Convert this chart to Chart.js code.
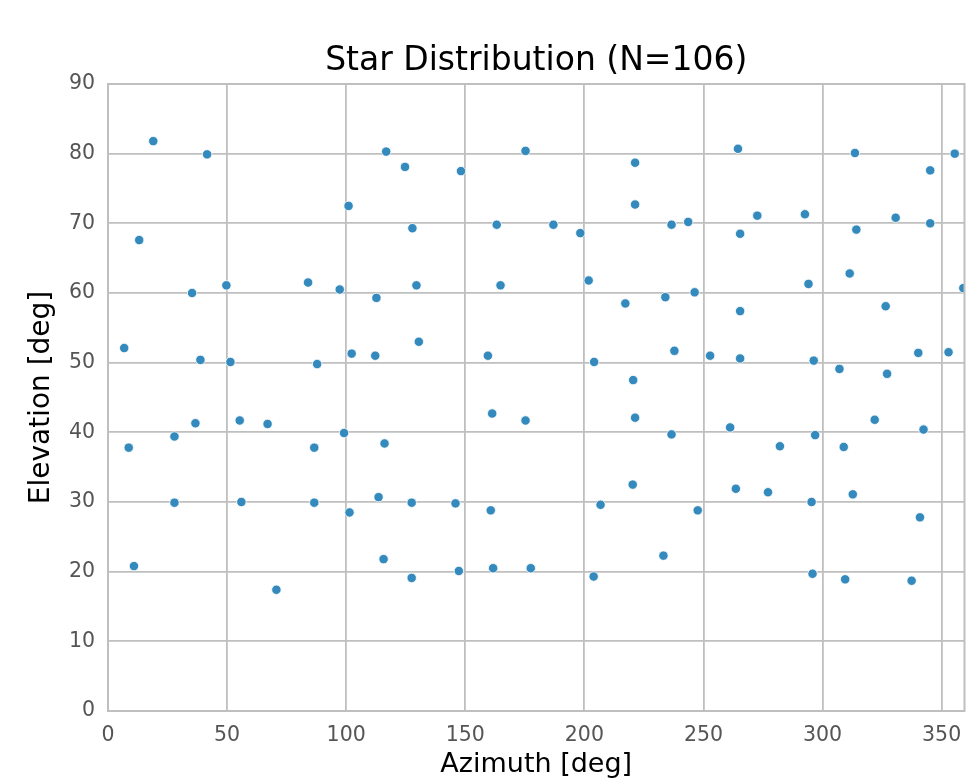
<!DOCTYPE html>
<html>
<head>
<meta charset="utf-8">
<script src="https://cdn.jsdelivr.net/npm/chart.js@4/dist/chart.umd.min.js"></script>
<style>
  html, body { margin: 0; padding: 0; background: #ffffff; }
  #wrap { width: 970px; height: 783px; position: relative; }
</style>
</head>
<body>
<div id="wrap"><canvas id="c" width="970" height="783"></canvas></div>
<script>
// ---- data ----
const azimuth = [
  6.8, 8.7, 10.9, 13.1, 19.0, 27.9, 27.9, 35.3, 36.7, 38.8,
  41.6, 49.7, 51.4, 55.3, 56.0, 67.0, 70.7, 84.0, 86.6, 86.6,
  87.8, 97.3, 99.1, 101.0, 101.4, 102.3, 112.2, 112.7, 113.6, 115.7,
  116.1, 116.8, 124.7, 127.5, 127.5, 127.8, 129.5, 130.5, 145.9, 147.3,
  148.2, 159.5, 160.7, 161.3, 161.7, 163.2, 164.8, 175.3, 175.3, 177.5,
  187.0, 198.3, 201.8, 203.9, 204.1, 206.8, 217.2, 220.3, 220.5, 221.3,
  221.3, 221.3, 233.2, 234.0, 236.6, 236.6, 237.8, 243.6, 246.3, 247.6,
  252.8, 261.2, 263.6, 264.5, 265.4, 265.4, 265.4, 272.6, 277.1, 282.1,
  292.6, 294.1, 295.4, 295.8, 296.3, 296.9, 307.1, 308.9, 309.5, 311.4,
  312.7, 313.6, 314.2, 321.9, 326.5, 327.1, 330.7, 337.4, 340.2, 340.9,
  342.4, 345.2, 345.2, 352.9, 355.5, 359.1
];
const elevation = [
  52.1, 37.8, 20.8, 67.6, 81.8, 39.4, 29.9, 60.0, 41.3, 50.4,
  79.9, 61.1, 50.1, 41.7, 30.0, 41.2, 17.4, 61.5, 37.8, 29.9,
  49.8, 60.5, 39.9, 72.5, 28.5, 51.3, 51.0, 59.3, 30.7, 21.8,
  38.4, 80.3, 78.1, 29.9, 19.1, 69.3, 61.1, 53.0, 29.8, 20.1,
  77.5, 51.0, 28.8, 42.7, 20.5, 69.8, 61.1, 80.4, 41.7, 20.5,
  69.8, 68.6, 61.8, 19.3, 50.1, 29.6, 58.5, 32.5, 47.5, 42.1,
  72.7, 78.7, 22.3, 59.4, 69.8, 39.7, 51.7, 70.2, 60.1, 28.8,
  51.0, 40.7, 31.9, 80.7, 68.5, 57.4, 50.6, 71.1, 31.4, 38.0,
  71.3, 61.3, 30.0, 19.7, 50.3, 39.6, 49.1, 37.9, 18.9, 62.8,
  31.1, 80.1, 69.1, 41.8, 58.1, 48.4, 70.8, 18.7, 51.4, 27.8,
  40.4, 77.6, 70.0, 51.5, 80.0, 60.7
];
const xTicks = [0, 50, 100, 150, 200, 250, 300, 350];
const yTicks = [0, 10, 20, 30, 40, 50, 60, 70, 80, 90];
const titleText = 'Star Distribution (N=' + azimuth.length + ')';
const xLabel = 'Azimuth [deg]';
const yLabel = 'Elevation [deg]';

// ---- chart ----
const points = azimuth.map((a, i) => ({ x: a, y: elevation[i] }));
const FONT = "'DejaVu Sans', sans-serif";
const GRID = '#bfbfbf';

const framePlugin = {
  id: 'frame',
  afterDraw(chart) {
    const { ctx, chartArea: a } = chart;
    ctx.save();
    ctx.strokeStyle = GRID;
    ctx.lineWidth = 2;
    ctx.strokeRect(a.left, a.top, a.right - a.left, a.bottom - a.top);
    ctx.restore();
  }
};

new Chart(document.getElementById('c'), {
  type: 'scatter',
  data: {
    datasets: [{
      data: points,
      backgroundColor: '#348ABD',
      borderColor: '#ffffff',
      borderWidth: 0.8,
      pointRadius: 4.7,
      pointHoverRadius: 4.7
    }]
  },
  options: {
    responsive: false,
    animation: false,
    events: [],
    layout: { padding: { left: 0, right: 2.5, top: 0, bottom: 0 } },
    plugins: {
      legend: { display: false },
      tooltip: { enabled: false },
      title: {
        display: true,
        fullSize: false,
        text: titleText,
        color: '#000000',
        font: { family: FONT, size: 33, weight: 'normal', lineHeight: 1.2 },
        padding: { top: 42, bottom: 2.4 }
      }
    },
    scales: {
      x: {
        type: 'linear',
        min: 0,
        max: 359.6,
        afterFit(s) { s.height = 72; s.paddingLeft = 0; s.paddingRight = 0; },
        afterBuildTicks(s) { s.ticks = xTicks.map(v => ({ value: v })); },
        ticks: {
          includeBounds: false,
          color: '#555555',
          padding: 12,
          font: { family: FONT, size: 20.5 },
          maxRotation: 0
        },
        grid: { color: GRID, lineWidth: 1.8, drawTicks: false },
        border: { display: false },
        title: {
          display: true,
          text: xLabel,
          color: '#000000',
          font: { family: FONT, size: 27, lineHeight: 1.2 },
          padding: { top: 0, bottom: 2 }
        }
      },
      y: {
        type: 'linear',
        min: 0,
        max: 90,
        afterFit(s) { s.width = 108; s.paddingTop = 0; s.paddingBottom = 0; },
        afterBuildTicks(s) { s.ticks = yTicks.map(v => ({ value: v })); },
        ticks: {
          color: '#555555',
          padding: 13,
          font: { family: FONT, size: 20.5 }
        },
        grid: { color: GRID, lineWidth: 1.8, drawTicks: false },
        border: { display: false },
        title: {
          display: true,
          text: yLabel,
          color: '#000000',
          font: { family: FONT, size: 28, lineHeight: 1.2 },
          padding: { top: 25, bottom: 0 }
        }
      }
    }
  },
  plugins: [framePlugin]
});
</script>
</body>
</html>
